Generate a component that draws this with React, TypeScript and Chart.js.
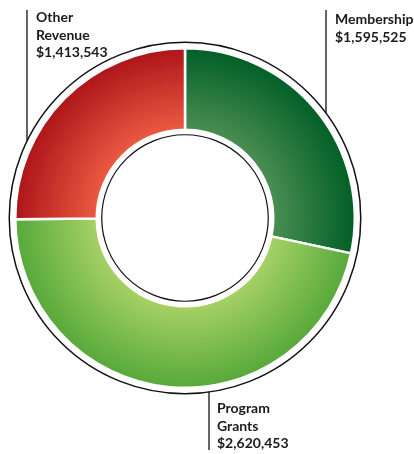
import React, { useEffect, useRef } from "react";
import { Chart, registerables } from "chart.js";

Chart.register(...registerables);

const categories = ["Membership", "Program Grants", "Other Revenue"];
const values = [1595525, 2620453, 1413543];
const valueLabels = ["$1,595,525", "$2,620,453", "$1,413,543"];
const innerColors = ["#4d8f53", "#a9d266", "#ee5c42"];
const outerColors = ["#005f26", "#56a83a", "#ad1419"];

const W = 414;
const H = 454;

const overlayPlugin = {
  id: "overlay",
  afterDatasetsDraw(chart: any) {
    const { ctx, chartArea } = chart;
    const meta = chart.getDatasetMeta(0);
    const arc = meta.data[0] as any;
    const cx = arc.x;
    const cy = arc.y;
    const outerR = arc.outerRadius;
    const innerR = arc.innerRadius;
    ctx.save();
    ctx.strokeStyle = "#111";
    // outer ring
    ctx.lineWidth = 1.5;
    const ringR = outerR + 6;
    ctx.beginPath();
    ctx.arc(cx, cy, ringR, 0, Math.PI * 2);
    ctx.stroke();
    // inner ring
    ctx.lineWidth = 1.2;
    const innerRing = innerR - 5;
    ctx.beginPath();
    ctx.arc(cx, cy, innerRing, 0, Math.PI * 2);
    ctx.stroke();

    // leader lines
    ctx.lineWidth = 1.3;
    const lx1 = 27;
    const ly1 = cy - Math.sqrt(ringR * ringR - (cx - lx1) * (cx - lx1));
    ctx.beginPath();
    ctx.moveTo(lx1, 10);
    ctx.lineTo(lx1, ly1);
    ctx.stroke();
    const lx2 = 326;
    const ly2 = cy - Math.sqrt(ringR * ringR - (lx2 - cx) * (lx2 - cx));
    ctx.beginPath();
    ctx.moveTo(lx2, 10);
    ctx.lineTo(lx2, ly2);
    ctx.stroke();
    const lx3 = 209;
    const ly3 = cy + Math.sqrt(ringR * ringR - (lx3 - cx) * (lx3 - cx));
    ctx.beginPath();
    ctx.moveTo(lx3, ly3);
    ctx.lineTo(lx3, 450);
    ctx.stroke();

    // labels
    ctx.fillStyle = "#1a1a1a";
    ctx.font = "bold 14px Lato";
    ctx.textBaseline = "alphabetic";
    ctx.textAlign = "left";
    const lh = 17.5;
    // Other Revenue
    ctx.fillText("Other", 36, 22);
    ctx.fillText("Revenue", 36, 22 + lh);
    ctx.fillText(valueLabels[2], 36, 22 + 2 * lh);
    // Membership
    ctx.fillText(categories[0], 335, 24);
    ctx.fillText(valueLabels[0], 335, 24 + lh);
    // Program Grants
    ctx.fillText("Program", 217, 413);
    ctx.fillText("Grants", 217, 413 + lh);
    ctx.fillText(valueLabels[1], 217, 413 + 2 * lh);
    ctx.restore();
  },
};

export default function App() {
  const ref = useRef<HTMLCanvasElement | null>(null);
  useEffect(() => {
    document.body.style.margin = "0";
    const canvas = ref.current;
    if (!canvas) return;
    const chart = new Chart(canvas, {
      type: "doughnut",
      data: {
        labels: categories,
        datasets: [
          {
            data: values,
            backgroundColor: (c: any) => {
              const chart = c.chart;
              const area = chart.chartArea;
              const i = c.dataIndex;
              if (!area) return innerColors[i];
              const cx = (area.left + area.right) / 2;
              const cy = (area.top + area.bottom) / 2;
              const r = Math.min(area.width, area.height) / 2;
              const g = chart.ctx.createRadialGradient(cx, cy, r * 0.5, cx, cy, r);
              g.addColorStop(0, innerColors[i]);
              g.addColorStop(1, outerColors[i]);
              return g;
            },
            borderColor: "#ffffff",
            borderWidth: 2.5,
            hoverOffset: 0,
          },
        ],
      },
      options: {
        responsive: false,
        animation: false,
        cutout: "52%",
        layout: { padding: { left: 14, top: 47, right: 58, bottom: 65 } },
        plugins: {
          legend: { display: false },
          tooltip: { enabled: false },
        },
      },
      plugins: [overlayPlugin],
    });
    return () => chart.destroy();
  }, []);
  return (
    <div style={{ width: W, height: H }}>
      <canvas ref={ref} width={W} height={H} style={{ display: "block" }} />
    </div>
  );
}
